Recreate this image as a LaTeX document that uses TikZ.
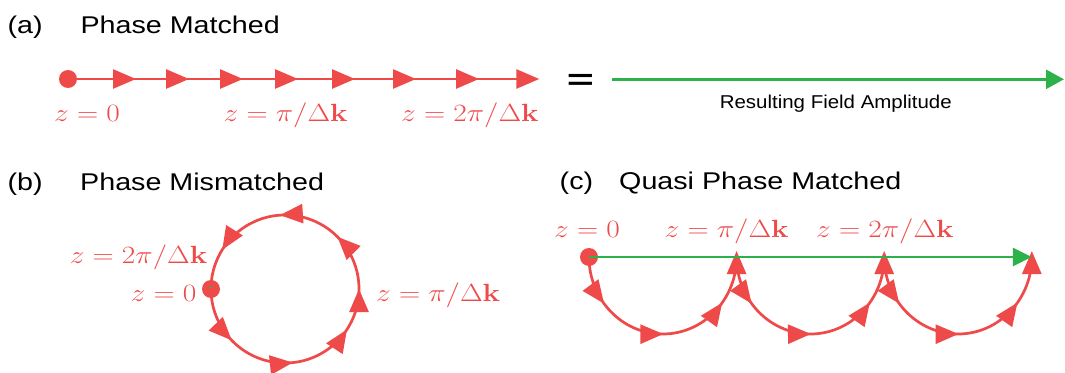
\documentclass[tikz,border=0pt]{standalone}
\usepackage[no-math]{fontspec}
\newfontfamily\hel{Liberation Sans}
\usetikzlibrary{arrows.meta,decorations.markings}
\definecolor{qred}{RGB}{239,74,74}
\definecolor{qgreen}{RGB}{45,178,75}
\newcommand{\ml}[1]{\scalebox{1.18}[1]{$#1$}}
\newcommand{\tl}[1]{\scalebox{1.185}[1]{#1}}
\begin{document}
\begin{tikzpicture}[x=1pt,y=1pt,
  lbl/.style={text=qred, inner sep=0pt, font=\fontsize{26.5}{27}\selectfont},
  ttl/.style={inner sep=0pt, font=\hel\fontsize{24.2}{26}\selectfont},
  rl/.style={qred, line width=2.7pt},
  gl/.style={qgreen, line width=2.7pt},
  dotc/.style={circle, fill=qred, inner sep=0pt, minimum size=18pt},
  >={Triangle[length=23pt,width=19pt]},
]
\useasboundingbox (0,0) rectangle (1065,-372);

% ---------- (a) ----------
\node[ttl, anchor=base west] (ta) at (7.5,-33.3) {\tl{(a)}};
\node[ttl, anchor=base west] (tan) at (80.4,-33.3) {\tl{Phase Matched}};
\node[dotc] (a0) at (68,-79) {};
\coordinate (a8) at (539.3,-79);
\draw[rl, ->, decoration={markings,
    mark=at position 68pt with {\arrow{>}},
    mark=at position 121pt with {\arrow{>}},
    mark=at position 175pt with {\arrow{>}},
    mark=at position 230pt with {\arrow{>}},
    mark=at position 287pt with {\arrow{>}},
    mark=at position 348pt with {\arrow{>}},
    mark=at position 411pt with {\arrow{>}}},
  postaction=decorate] (a0.center) -- (a8);
\node[lbl, anchor=base west] (la0) at (54,-121.5) {\ml{z=0}};
\node[lbl, anchor=base west] (la1) at (223.5,-121.5) {\ml{z=\pi/\Delta\mathbf{k}}};
\node[lbl, anchor=base west] (la2) at (401,-121.5) {\ml{z=2\pi/\Delta\mathbf{k}}};

\node[anchor=base, inner sep=0pt] (eq) at (580.3,-89.5) {\scalebox{1.6}[1]{\hel\bfseries\fontsize{29}{29}\selectfont =}};
\coordinate (g0) at (612.3,-79.3);
\coordinate (g1) at (1064,-79.3);
\draw[gl, -{Triangle[length=18pt,width=19pt]}] (g0) -- (g1);
\node[anchor=base, inner sep=0pt, font=\hel\fontsize{18.6}{20}\selectfont] (res) at (835.8,-108.3) {\scalebox{1.1}[1]{Resulting Field Amplitude}};

% ---------- (b) ----------
\node[ttl, anchor=base west] (tb) at (7.5,-190) {\tl{(b)}};
\node[ttl, anchor=base west] (tbn) at (80,-190) {\tl{Phase Mismatched}};
\node[dotc] (b0) at (211,-289) {};
\draw[rl, decoration={markings,
    mark=at position 0.122 with {\arrow{>}},
    mark=at position 0.267 with {\arrow{>}},
    mark=at position 0.408 with {\arrow{>}},
    mark=at position 0.5 with {\arrow{>}},
    mark=at position 0.625 with {\arrow{>}},
    mark=at position 0.761 with {\arrow{>}},
    mark=at position 0.911 with {\arrow{>}}},
  postaction=decorate] (b0.center) arc[start angle=180, end angle=540, radius=74];
\draw[qgreen, line width=1.2pt] ([xshift=-2pt,yshift=1.5pt]b0.center) -- ([xshift=2pt,yshift=1.5pt]b0.center);
\node[lbl, anchor=base east] (lb2) at (207.5,-263) {\ml{z=2\pi/\Delta\mathbf{k}}};
\node[lbl, anchor=base east] (lb0) at (196.5,-301) {\ml{z=0}};
\node[lbl, anchor=base west] (lb1) at (376,-301.4) {\ml{z=\pi/\Delta\mathbf{k}}};

% ---------- (c) ----------
\node[ttl, anchor=base west] (tc) at (559.5,-189.4) {\tl{(c)}};
\node[ttl, anchor=base west] (tcn) at (619,-189.4) {\tl{Quasi Phase Matched}};
\node[dotc] (c0) at (589,-257) {};
\coordinate (c1) at (736.6,-257);
\coordinate (c2) at (884.2,-257);
\coordinate (c3) at (1031.8,-257);
\coordinate (t1) at (736.6,-251);
\coordinate (t2) at (884.2,-251);
\coordinate (t3) at (1031.8,-251);
\tikzset{qarc/.style={rl, ->, decoration={markings,
    mark=at position 0.205 with {\arrow{>}},
    mark=at position 0.49 with {\arrow{>}},
    mark=at position 0.775 with {\arrow{>}}},
  postaction=decorate}}
\draw[qarc] (c0.center) arc[start angle=180, end angle=360, x radius=73.8, y radius=77] -- (t1);
\draw[qarc] (c1) arc[start angle=180, end angle=360, x radius=73.8, y radius=77] -- (t2);
\draw[qarc] (c2) arc[start angle=180, end angle=360, x radius=73.8, y radius=77] -- (t3);
\draw[gl, -{Triangle[length=19pt,width=18pt]}] (c0.center) -- (c3);
\node[lbl, anchor=base west] (lc0) at (554,-237) {\ml{z=0}};
\node[lbl, anchor=base west] (lc1) at (664.5,-237) {\ml{z=\pi/\Delta\mathbf{k}}};
\node[lbl, anchor=base west] (lc2) at (816,-237) {\ml{z=2\pi/\Delta\mathbf{k}}};
\end{tikzpicture}
\end{document}
